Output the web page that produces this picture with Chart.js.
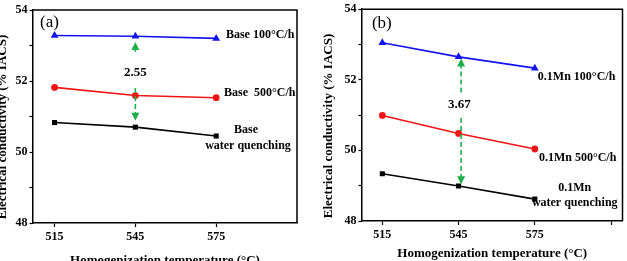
<!DOCTYPE html>
<html>
<head>
<meta charset="utf-8">
<script src="https://cdn.jsdelivr.net/npm/chart.js@4.4.0/dist/chart.umd.min.js"></script>
<style>
  body { margin: 0; background: #fff; }
  #wrap { position: relative; width: 627px; height: 261px; overflow: hidden; }
  canvas { position: absolute; top: 0; }
</style>
</head>
<body>
<div id="wrap">
  <canvas id="chartA" width="310" height="261" style="left:0"></canvas>
  <canvas id="chartB" width="317" height="261" style="left:310px"></canvas>
</div>
<script>
// homogenization temperature (°C)
const temperatures = [515, 545, 575];
const yTicks = [48, 49, 50, 51, 52, 53, 54];

// (a) base alloy, % IACS
const base100 = [53.28, 53.26, 53.2];
const base500 = [51.82, 51.59, 51.53];
const baseQuench = [50.83, 50.7, 50.45];

// (b) 0.1Mn alloy, % IACS
const mn100 = [53.05, 52.65, 52.33];
const mn500 = [50.99, 50.48, 50.04];
const mnQuench = [49.34, 48.99, 48.62];

const SERIF = '"Liberation Serif", "Times New Roman", serif';
const GREEN = '#1fae4c';

Chart.defaults.font.family = SERIF;
Chart.defaults.color = '#000';

function toPoints(values) {
  return temperatures.map((t, i) => ({ x: t, y: values[i] }));
}

function series(values, color, pointStyle, radius) {
  return {
    data: toPoints(values),
    borderColor: color,
    backgroundColor: color,
    borderWidth: 1.6,
    pointStyle: pointStyle,
    pointRadius: radius,
    pointBorderWidth: 0,
  };
}

function drawArrowHead(ctx, x, y, dir) {
  ctx.beginPath();
  ctx.moveTo(x, y);
  ctx.lineTo(x - 4, y - dir * 8);
  ctx.lineTo(x + 4, y - dir * 8);
  ctx.closePath();
  ctx.fill();
}

// text labels, dashed arrows and the frame, placed through the chart scales
function notesPlugin(notes) {
  return {
    id: 'notes',
    afterDatasetsDraw(chart) {
      const { ctx, chartArea, scales: { x, y } } = chart;
      ctx.save();

      ctx.strokeStyle = '#000';
      ctx.lineWidth = 1.5;
      ctx.beginPath();
      ctx.moveTo(chartArea.left, chartArea.top);
      ctx.lineTo(chartArea.right, chartArea.top);
      ctx.lineTo(chartArea.right, chartArea.bottom);
      ctx.stroke();

      ctx.strokeStyle = GREEN;
      ctx.fillStyle = GREEN;
      ctx.lineWidth = 1.6;
      notes.arrows.forEach((a) => {
        const px = x.getPixelForValue(a.x);
        const from = y.getPixelForValue(a.from);
        const to = y.getPixelForValue(a.to);
        const dir = to > from ? 1 : -1;
        ctx.setLineDash([5, 3]);
        ctx.beginPath();
        ctx.moveTo(px, from);
        ctx.lineTo(px, to - dir * 7);
        ctx.stroke();
        ctx.setLineDash([]);
        drawArrowHead(ctx, px, to, dir);
      });

      ctx.fillStyle = '#000';
      ctx.textBaseline = 'middle';
      notes.labels.forEach((l) => {
        ctx.font = l.font || `bold 12px ${SERIF}`;
        ctx.textAlign = l.align || 'left';
        ctx.fillText(l.text, x.getPixelForValue(l.x), y.getPixelForValue(l.y));
      });

      const t = notes.yTitle;
      ctx.font = `bold 13px ${SERIF}`;
      ctx.textAlign = 'center';
      ctx.translate(t.x, t.y);
      ctx.rotate(-Math.PI / 2);
      ctx.fillText('Electrical conductivity (% IACS)', 0, 0);

      ctx.restore();
    },
  };
}

function makePanel(canvasId, panel) {
  const ctx = document.getElementById(canvasId).getContext('2d');
  return new Chart(ctx, {
    type: 'line',
    data: {
      datasets: [
        series(panel.slow, '#1414f0', 'triangle', 4.5),
        series(panel.mid, '#f01414', 'circle', 3.4),
        series(panel.quench, '#000', 'rect', 3.6),
      ],
    },
    options: {
      responsive: false,
      animation: false,
      devicePixelRatio: 1,
      layout: { padding: { left: 0, right: panel.padRight, top: panel.padTop, bottom: 0 } },
      plugins: { legend: { display: false }, tooltip: { enabled: false } },
      scales: {
        x: {
          type: 'linear',
          min: panel.xMin,
          max: panel.xMax,
          afterBuildTicks: (scale) => {
            scale.ticks = panel.xTicks.map((v) => ({ value: v }));
          },
          afterFit: (scale) => {
            scale.height = panel.xHeight;
          },
          ticks: {
            autoSkip: false,
            maxRotation: 0,
            padding: 3,
            font: { size: 12, weight: 'bold' },
            callback: (v) => (temperatures.includes(v) ? String(v) : ''),
          },
          grid: { drawOnChartArea: false, tickLength: 4, color: '#000', tickWidth: 1.2 },
          border: { color: '#000', width: 1.5 },
          title: {
            display: true,
            text: 'Homogenization temperature (°C)',
            font: { size: 13, weight: 'bold' },
            padding: { top: 0, bottom: panel.xTitlePad },
          },
        },
        y: {
          min: 48,
          max: 54,
          afterBuildTicks: (scale) => {
            scale.ticks = yTicks.map((v) => ({ value: v }));
          },
          afterFit: (scale) => {
            scale.width = panel.yWidth;
          },
          ticks: {
            padding: 2,
            font: { size: 12, weight: 'bold' },
            callback: (v) => (v % 2 === 0 ? String(v) : ''),
          },
          grid: { drawOnChartArea: false, tickLength: 3.5, color: '#000', tickWidth: 1.2 },
          border: { color: '#000', width: 1.5 },
        },
      },
    },
    plugins: [notesPlugin(panel.notes)],
  });
}

makePanel('chartA', {
  slow: base100,
  mid: base500,
  quench: baseQuench,
  xMin: 507,
  xMax: 605,
  xTicks: [515, 545, 575],
  padRight: 13,
  padTop: 10,
  xHeight: 38,
  yWidth: 33,
  xTitlePad: -7,
  notes: {
    yTitle: { x: 2.5, y: 127 },
    arrows: [
      { x: 545, from: 52.82, to: 53.1 },
      { x: 545, from: 51.8, to: 50.88 },
    ],
    labels: [
      { x: 509.6, y: 53.66, text: '(a)', font: `17px ${SERIF}` },
      { x: 545, y: 52.23, text: '2.55', align: 'center', font: `bold 13px ${SERIF}` },
      { x: 578.6, y: 53.3, text: 'Base 100°C/h' },
      { x: 577.9, y: 51.66, text: 'Base  500°C/h' },
      { x: 586.1, y: 50.62, text: 'Base', align: 'center' },
      { x: 586.8, y: 50.17, text: 'water quenching', align: 'center' },
    ],
  },
});

makePanel('chartB', {
  slow: mn100,
  mid: mn500,
  quench: mnQuench,
  xMin: 507,
  xMax: 609.5,
  xTicks: [515, 545, 575, 605],
  padRight: 3,
  padTop: 7,
  xHeight: 40,
  yWidth: 52,
  xTitlePad: 0,
  notes: {
    yTitle: { x: 18.5, y: 126 },
    arrows: [
      { x: 546, from: 51.64, to: 52.6 },
      { x: 546, from: 50.92, to: 49.04 },
    ],
    labels: [
      { x: 510.9, y: 53.58, text: '(b)', font: `17px ${SERIF}` },
      { x: 545.3, y: 51.31, text: '3.67', align: 'center', font: `bold 13px ${SERIF}` },
      { x: 576.2, y: 52.09, text: '0.1Mn 100°C/h' },
      { x: 576.6, y: 49.79, text: '0.1Mn 500°C/h' },
      { x: 590.7, y: 48.95, text: '0.1Mn', align: 'center' },
      { x: 590.7, y: 48.5, text: 'water quenching', align: 'center' },
    ],
  },
});
</script>
</body>
</html>
